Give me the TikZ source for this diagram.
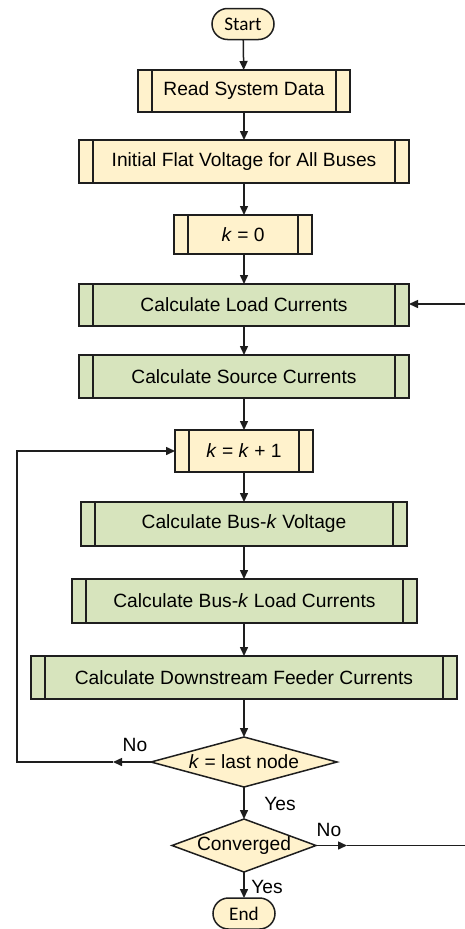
\documentclass[tikz,border=0pt]{standalone}
\usepackage{fontspec}
\setmainfont{Liberation Sans}
\newfontfamily\calibfont{Carlito}
\usetikzlibrary{shapes.geometric,arrows.meta}
\definecolor{boxyellow}{HTML}{FFF2CC}
\definecolor{boxgreen}{HTML}{D7E4BD}
\definecolor{edgecol}{HTML}{1E1E1E}
\begin{document}
\begin{tikzpicture}[x=1pt,y=-1pt,
  font=\fontsize{19.2}{22}\selectfont,
  base/.style={draw=edgecol, line width=1.5pt, inner sep=0pt, outer sep=0pt, text=black},
  predef/.style={base, rectangle,
    path picture={
      \draw[edgecol, line width=1.5pt] ([xshift=14pt]path picture bounding box.north west) -- ([xshift=14pt]path picture bounding box.south west);
      \draw[edgecol, line width=1.5pt] ([xshift=-14pt]path picture bounding box.north east) -- ([xshift=-14pt]path picture bounding box.south east);}},
  ybox/.style={predef, fill=boxyellow},
  gbox/.style={predef, fill=boxgreen},
  term/.style={base, fill=boxyellow, rounded corners=15.5pt, minimum width=62pt, minimum height=31pt, font=\calibfont\fontsize{19.2}{22}\selectfont},
  decide/.style={base, diamond, fill=boxyellow},
  lbl/.style={inner sep=0pt, text=black},
  arr/.style={draw=edgecol, line width=1.5pt, -{Triangle[length=9pt,width=8pt]}},
  ln/.style={draw=edgecol, line width=1.5pt}
]
\useasboundingbox (0,0) rectangle (465,929);

\node[term] (start) at (243,24) {Start};
\node[ybox, minimum width=212pt, minimum height=42pt] (read) at (244,91) {Read System Data};
\node[ybox, minimum width=330pt, minimum height=43pt] (init) at (244,161.5) {Initial Flat Voltage for All Buses};
\node[ybox, minimum width=138pt, minimum height=39pt] (k0) at (243,234.5) {\textit{k} = 0};
\node[gbox, minimum width=330pt, minimum height=42pt] (load) at (244,305) {Calculate Load Currents};
\node[gbox, minimum width=330pt, minimum height=43pt] (source) at (244,376.5) {Calculate Source Currents};
\node[ybox, minimum width=138pt, minimum height=42pt] (kk1) at (244,451) {\textit{k} = \textit{k} + 1};
\node[gbox, minimum width=326pt, minimum height=44pt] (busv) at (244,524) {Calculate Bus-\textit{k} Voltage};
\node[gbox, minimum width=345pt, minimum height=44pt] (busl) at (244.5,601) {Calculate Bus-\textit{k} Load Currents};
\node[gbox, minimum width=426pt, minimum height=43pt] (down) at (244,677.5) {Calculate Downstream Feeder Currents};
\node[decide, aspect=3.72, minimum width=186pt, minimum height=50pt] (dk) at (244,762) {\textit{k} = last node};
\node[decide, aspect=2.72, minimum width=144pt, minimum height=53pt] (conv) at (244,845.5) {Converged};
\node[term] (end) at (244,913.5) {End};

\draw[arr] (start) -- (read);
\draw[arr] (read) -- (init);
\draw[arr] (init) -- (init.south |- k0.north);
\draw[arr] (k0.south -| load.north) -- (load);
\draw[arr] (load) -- (source);
\draw[arr] (source) -- (kk1);
\draw[arr] (kk1) -- (busv);
\draw[arr] (busv) -- (busl.north -| busv.south);
\draw[arr] (busl.south -| busv.south) -- (down);
\draw[arr] (down) -- (dk);
\draw[arr] (dk) -- (conv);
\draw[arr] (conv) -- (end);

% loop back from k = last node
\coordinate (m1) at (113,762);
\coordinate (lc) at (17,762);
\draw[arr] (dk.west) -- (m1);
\draw[arr] (m1) -- (lc) |- (kk1.west);

% convergence loop (off the right edge)
\coordinate (m2) at (347,845.5);
\coordinate (rc) at (465,845.5);
\coordinate (rl) at (465,304);
\draw[arr] (conv.east) -- (m2);
\draw[ln] (m2) -- (rc);
\draw[arr] (rl) -- (load.east |- rl);

\node[lbl] (no1) at (135,745) {No};
\node[lbl] (yes1) at (280,804) {Yes};
\node[lbl] (no2) at (329,830) {No};
\node[lbl] (yes2) at (267,887) {Yes};
\end{tikzpicture}
\end{document}
